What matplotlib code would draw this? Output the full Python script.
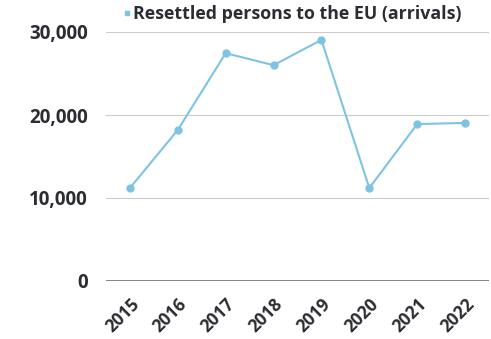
import matplotlib
matplotlib.use('Agg')
from matplotlib import pyplot as plt

years = ['2015', '2016', '2017', '2018', '2019', '2020', '2021', '2022']
arrivals = [11200, 18200, 27450, 26000, 29050, 11200, 18900, 19050]
yticks = [0, 10000, 20000, 30000]
ytick_labels = ['0', '10,000', '20,000', '30,000']

line_color = '#7ec4e2'
text_color = '#2b2d33'

plt.rcParams['font.family'] = ['Open Sans', 'DejaVu Sans']

fig = plt.figure(figsize=(4.91, 3.39), dpi=100)
ax = fig.add_axes([106 / 491, 58 / 339, 383 / 491, 249 / 339])

x = list(range(len(years)))
ax.plot(x, arrivals, color=line_color, linewidth=1.5, marker='o', markersize=5,
        clip_on=False, zorder=3, label='Resettled persons to the EU (arrivals)')

ax.set_xlim(-0.5, len(years) - 0.5)
ax.set_ylim(0, 30000)
ax.set_yticks(yticks)
ax.set_yticklabels(ytick_labels, fontsize=13.5, fontweight='bold', color=text_color)
ax.set_xticks(x)
ax.set_xticklabels(years, rotation=45, ha='right', rotation_mode='anchor',
                   fontsize=12.5, fontweight='bold', color=text_color)
ax.tick_params(length=0)
ax.tick_params(axis='y', pad=13)
ax.tick_params(axis='x', pad=10)

for v in yticks[1:]:
    ax.axhline(v, color='#cccccc', linewidth=0.8, zorder=1)
ax.axhline(0, color='#707070', linewidth=1.2, zorder=2)

for s in ax.spines.values():
    s.set_visible(False)

leg = fig.legend(handles=[plt.Line2D([], [], color=line_color, marker='s', markersize=2.5, linestyle='')],
                 labels=['Resettled persons to the EU (arrivals)'],
                 loc='center', bbox_to_anchor=(293 / 491, 1 - 14 / 339), frameon=False,
                 handlelength=0.2, handletextpad=0.25,
                 prop={'size': 12.8, 'weight': 'bold'})
for t in leg.get_texts():
    t.set_color(text_color)

plt.savefig('out.png', dpi=100)
